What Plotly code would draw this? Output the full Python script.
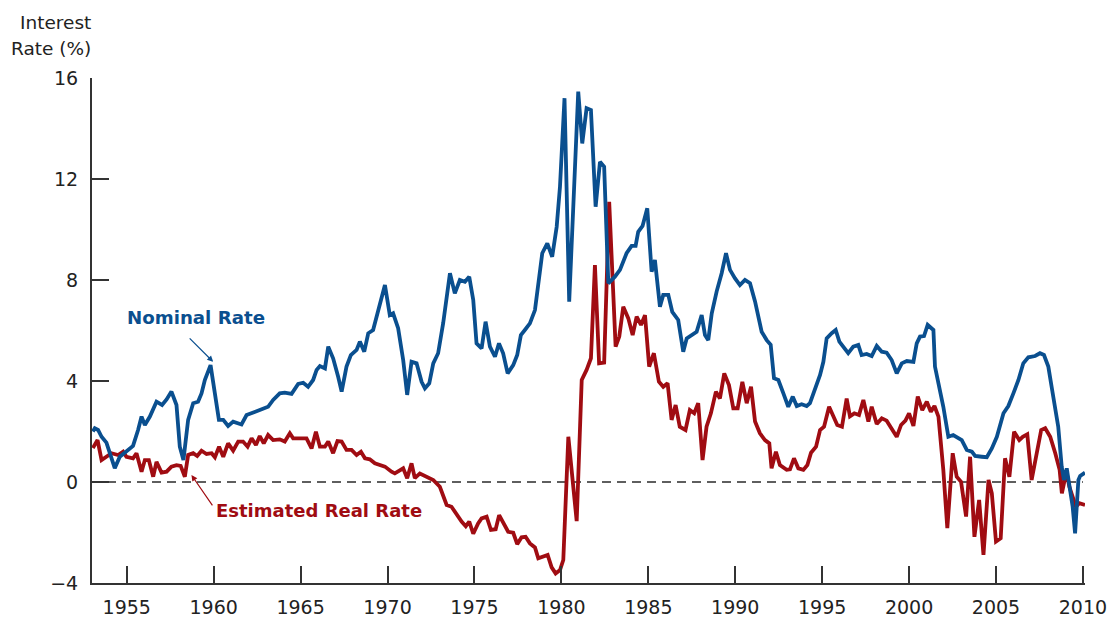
import plotly.graph_objects as go

# nominal rate (year, percent)
nominal_year = [1953.05, 1953.16, 1953.35, 1953.55, 1953.83, 1954.31, 1954.6, 1954.98, 1955.36, 1955.65,
                1955.85, 1956.04, 1956.33, 1956.71, 1957.03, 1957.29, 1957.57, 1957.86, 1958.05, 1958.26,
                1958.53, 1958.82, 1959.1, 1959.3, 1959.49, 1959.82, 1960.07, 1960.3, 1960.55, 1960.83,
                1961.12, 1961.6, 1961.89, 1962.18, 1962.65, 1963.13, 1963.42, 1963.8, 1964.09, 1964.48,
                1964.86, 1965.15, 1965.43, 1965.72, 1965.92, 1966.11, 1966.4, 1966.59, 1966.87, 1967.16,
                1967.36, 1967.64, 1967.89, 1968.22, 1968.41, 1968.66, 1968.89, 1969.17, 1969.37, 1969.56,
                1969.85, 1970.13, 1970.32, 1970.61, 1970.9, 1971.13, 1971.38, 1971.67, 1971.96, 1972.15,
                1972.4, 1972.63, 1972.91, 1973.2, 1973.59, 1973.87, 1974.16, 1974.45, 1974.7, 1974.93,
                1975.12, 1975.41, 1975.64, 1975.89, 1976.18, 1976.41, 1976.65, 1976.91, 1977.23, 1977.46,
                1977.67, 1977.9, 1978.19, 1978.48, 1978.67, 1978.9, 1979.19, 1979.47, 1979.73, 1979.92,
                1980.18, 1980.45, 1980.97, 1981.2, 1981.45, 1981.7, 1981.97, 1982.22, 1982.46, 1982.7,
                1983.08, 1983.37, 1983.75, 1984.04, 1984.27, 1984.42, 1984.67, 1984.94, 1985.19, 1985.38,
                1985.67, 1985.86, 1986.15, 1986.38, 1986.72, 1987.01, 1987.21, 1987.49, 1987.78, 1988.07,
                1988.26, 1988.45, 1988.65, 1988.93, 1989.22, 1989.47, 1989.7, 1989.98, 1990.27, 1990.56,
                1990.85, 1991.14, 1991.52, 1991.81, 1992.04, 1992.23, 1992.48, 1992.77, 1993.05, 1993.31,
                1993.54, 1993.82, 1994.11, 1994.3, 1994.59, 1994.88, 1995.07, 1995.26, 1995.55, 1995.78,
                1995.99, 1996.22, 1996.5, 1996.79, 1997.08, 1997.27, 1997.56, 1997.85, 1998.14, 1998.43,
                1998.71, 1999.0, 1999.29, 1999.58, 1999.87, 2000.25, 2000.44, 2000.63, 2000.86, 2001.07,
                2001.4, 2001.49, 2001.78, 2001.97, 2002.26, 2002.54, 2003.03, 2003.32, 2003.61, 2003.8,
                2004.18, 2004.47, 2004.76, 2005.05, 2005.43, 2005.71, 2006.0, 2006.29, 2006.57, 2006.86,
                2007.25, 2007.53, 2007.76, 2008.01, 2008.2, 2008.39, 2008.58, 2008.78, 2008.91, 2009.07,
                2009.22, 2009.41, 2009.55, 2009.74, 2009.84, 2010.12]
nominal_rate = [2.0, 2.13, 2.06, 1.79, 1.56, 0.55, 1.0, 1.2, 1.43, 2.06,
                2.59, 2.26, 2.59, 3.18, 3.05, 3.27, 3.58, 3.05, 1.4, 0.87,
                2.46, 3.12, 3.18, 3.51, 4.04, 4.63, 3.38, 2.46, 2.46, 2.22,
                2.39, 2.28, 2.65, 2.74, 2.85, 2.98, 3.25, 3.51, 3.54, 3.49,
                3.88, 3.93, 3.77, 4.04, 4.44, 4.59, 4.5, 5.36, 4.9, 4.17,
                3.58, 4.57, 5.03, 5.23, 5.56, 5.16, 5.89, 6.02, 6.55, 7.01,
                7.8, 6.61, 6.68, 6.09, 4.83, 3.45, 4.76, 4.7, 3.97, 3.71,
                3.91, 4.7, 5.1, 6.29, 8.27, 7.47, 8.0, 7.93, 8.13, 7.21,
                5.49, 5.29, 6.35, 5.36, 4.96, 5.49, 5.1, 4.3, 4.63, 5.03,
                5.82, 6.02, 6.28, 6.81, 7.73, 9.06, 9.45, 8.92, 10.11, 11.7,
                15.2, 7.14, 15.46, 13.41, 14.8, 14.73, 10.9, 12.68, 12.49, 7.87,
                8.13, 8.4, 9.06, 9.35, 9.35, 9.91, 10.14, 10.84, 8.33, 8.79,
                6.94, 7.41, 7.41, 6.74, 6.42, 5.16, 5.69, 5.82, 5.95, 6.61,
                5.82, 5.62, 6.68, 7.54, 8.27, 9.06, 8.4, 8.07, 7.8, 8.0,
                7.87, 7.15, 5.95, 5.62, 5.43, 4.11, 4.04, 3.51, 2.98, 3.38,
                3.01, 3.08, 3.01, 3.12, 3.64, 4.24, 4.76, 5.69, 5.89, 6.02,
                5.56, 5.36, 5.1, 5.36, 5.43, 5.03, 5.07, 4.99, 5.39, 5.16,
                5.12, 4.83, 4.3, 4.7, 4.79, 4.76, 5.49, 5.76, 5.78, 6.22,
                6.02, 4.57, 3.7, 2.98, 1.79, 1.86, 1.66, 1.27, 1.2, 1.03,
                1.0, 0.98, 1.33, 1.79, 2.72, 3.01, 3.51, 4.04, 4.7, 4.94,
                4.99, 5.1, 5.03, 4.57, 3.77, 2.98, 2.19, 0.61, 0.08, 0.54,
                -0.19, -0.98, -2.03, 0.08, 0.24, 0.37]

# estimated real rate
real_year = [1953.05, 1953.32, 1953.55, 1953.83, 1954.12, 1954.5, 1954.79, 1954.98, 1955.36, 1955.56,
             1955.85, 1956.04, 1956.27, 1956.52, 1956.71, 1957.0, 1957.29, 1957.57, 1957.86, 1958.1,
             1958.34, 1958.53, 1958.82, 1959.05, 1959.3, 1959.59, 1959.88, 1960.07, 1960.31, 1960.55,
             1960.83, 1961.12, 1961.41, 1961.69, 1961.95, 1962.18, 1962.43, 1962.65, 1962.88, 1963.13,
             1963.42, 1963.8, 1964.09, 1964.38, 1964.57, 1964.86, 1965.34, 1965.63, 1965.88, 1966.11,
             1966.4, 1966.59, 1966.87, 1967.12, 1967.36, 1967.64, 1967.93, 1968.22, 1968.47, 1968.7,
             1968.98, 1969.27, 1969.6, 1969.85, 1970.23, 1970.42, 1970.9, 1971.13, 1971.38, 1971.57,
             1971.86, 1972.25, 1972.63, 1973.01, 1973.4, 1973.68, 1973.97, 1974.26, 1974.5, 1974.7,
             1974.93, 1975.21, 1975.41, 1975.7, 1975.95, 1976.22, 1976.42, 1976.65, 1976.94, 1977.23,
             1977.46, 1977.71, 1977.94, 1978.19, 1978.48, 1978.67, 1978.96, 1979.21, 1979.44, 1979.67,
             1979.92, 1980.11, 1980.4, 1980.88, 1981.17, 1981.45, 1981.7, 1981.93, 1982.17, 1982.46,
             1982.75, 1983.12, 1983.33, 1983.56, 1983.85, 1984.1, 1984.33, 1984.58, 1984.81, 1985.05,
             1985.32, 1985.61, 1985.86, 1986.11, 1986.34, 1986.57, 1986.81, 1987.14, 1987.39, 1987.64,
             1987.87, 1988.12, 1988.35, 1988.6, 1988.89, 1989.12, 1989.37, 1989.64, 1989.89, 1990.14,
             1990.41, 1990.66, 1990.91, 1991.14, 1991.42, 1991.71, 1991.96, 1992.09, 1992.34, 1992.57,
             1992.96, 1993.15, 1993.38, 1993.63, 1993.92, 1994.15, 1994.36, 1994.65, 1994.88, 1995.11,
             1995.4, 1995.64, 1995.87, 1996.14, 1996.41, 1996.6, 1996.85, 1997.12, 1997.37, 1997.66,
             1997.85, 1998.14, 1998.43, 1998.71, 1999.0, 1999.29, 1999.54, 1999.79, 2000.0, 2000.25,
             2000.5, 2000.76, 2001.02, 2001.25, 2001.46, 2001.69, 2001.97, 2002.2, 2002.51, 2002.74,
             2002.99, 2003.28, 2003.51, 2003.76, 2004.03, 2004.28, 2004.57, 2004.76, 2005.0, 2005.27,
             2005.52, 2005.77, 2006.04, 2006.34, 2006.54, 2006.8, 2007.05, 2007.34, 2007.6, 2007.83,
             2008.12, 2008.41, 2008.66, 2008.79, 2009.05, 2009.22, 2009.41, 2009.6, 2009.79, 2010.12]
real_rate = [1.35, 1.66, 0.87, 1.0, 1.14, 1.07, 1.2, 1.0, 0.94, 1.14,
             0.41, 0.87, 0.87, 0.21, 0.8, 0.37, 0.41, 0.61, 0.67, 0.64,
             0.21, 1.07, 1.14, 1.03, 1.24, 1.11, 1.14, 0.98, 1.4, 1.0,
             1.53, 1.24, 1.6, 1.6, 1.4, 1.73, 1.47, 1.82, 1.53, 1.86,
             1.66, 1.69, 1.6, 1.93, 1.73, 1.73, 1.73, 1.33, 1.99, 1.4,
             1.4, 1.6, 1.14, 1.62, 1.6, 1.27, 1.27, 1.07, 1.2, 0.94,
             0.9, 0.74, 0.68, 0.61, 0.41, 0.34, 0.54, 0.15, 0.74, 0.15,
             0.34, 0.21, 0.08, -0.19, -0.91, -0.98, -1.31, -1.57, -1.75, -1.57,
             -2.05, -1.64, -1.44, -1.37, -1.9, -1.87, -1.31, -1.64, -1.97, -2.01,
             -2.46, -2.19, -2.17, -2.43, -2.59, -3.02, -2.93, -2.89, -3.38, -3.62,
             -3.49, -3.09, 1.79, -1.55, 4.04, 4.44, 4.9, 8.59, 4.7, 4.73,
             11.1, 5.36, 5.76, 6.94, 6.48, 5.82, 6.55, 6.22, 6.61, 4.57,
             5.1, 3.97, 3.77, 3.91, 2.46, 3.05, 2.19, 2.06, 2.85, 2.72,
             3.12, 0.87, 2.19, 2.72, 3.58, 3.31, 4.3, 3.84, 2.92, 2.92,
             3.97, 3.12, 3.77, 2.4, 1.93, 1.66, 1.53, 0.54, 1.2, 0.67,
             0.48, 0.5, 0.94, 0.54, 0.48, 0.67, 1.16, 1.4, 2.06, 2.19,
             2.98, 2.65, 2.26, 2.19, 3.3, 2.6, 2.72, 2.65, 3.25, 2.39,
             2.98, 2.3, 2.52, 2.43, 2.13, 1.79, 2.26, 2.43, 2.72, 2.22,
             3.38, 2.85, 3.18, 2.78, 3.01, 2.59, 0.48, -1.83, 1.14, 0.21,
             0.01, -1.37, 1.0, -2.17, -0.71, -2.89, 0.08, -0.45, -2.36, -2.23,
             0.94, 0.21, 1.99, 1.66, 1.79, 1.89, 0.08, 1.14, 2.06, 2.13,
             1.79, 1.14, 0.48, -0.45, 0.41, -0.19, -0.58, -0.98, -0.84, -0.91]

year_ticks = [1955, 1960, 1965, 1970, 1975, 1980, 1985, 1990, 1995, 2000, 2005, 2010]
rate_ticks = [-4, 0, 4, 8, 12, 16]

BLUE = "#0a4f8f"
RED = "#a00c12"
FONT = "DejaVu Sans"

fig = go.Figure()
fig.add_trace(go.Scatter(x=real_year, y=real_rate, mode="lines",
                         line=dict(color=RED, width=3.8), name="Estimated Real Rate"))
fig.add_trace(go.Scatter(x=nominal_year, y=nominal_rate, mode="lines",
                         line=dict(color=BLUE, width=3.8), name="Nominal Rate"))

# dashed zero line
fig.add_shape(type="line", xref="x", yref="y", x0=1953, x1=2010, y0=0, y1=0,
              line=dict(color="#2a2a2a", width=1.5, dash="9px,6px"), layer="below")

# labels and arrows
fig.add_annotation(x=1959.0, y=6.53, text="<b>Nominal Rate</b>", showarrow=False,
                   font=dict(family=FONT, size=18.2, color=BLUE))
fig.add_annotation(x=1966.05, y=-1.11, text="<b>Estimated Real Rate</b>", showarrow=False,
                   font=dict(family=FONT, size=18, color=RED))
fig.add_annotation(x=1959.97, y=4.76, text="", showarrow=True, ax=-25, ay=-25,
                   arrowhead=2, arrowsize=1, arrowwidth=1.2, arrowcolor=BLUE)
fig.add_annotation(x=1958.72, y=0.28, text="", showarrow=True, ax=22, ay=32,
                   arrowhead=2, arrowsize=1, arrowwidth=1.2, arrowcolor=RED)

# y axis title, two lines, right aligned over the axis
fig.add_annotation(xref="paper", yref="paper", x=0, y=1, xanchor="right", yanchor="middle",
                   xshift=1, yshift=56, text="Interest", showarrow=False,
                   font=dict(family=FONT, size=18.5, color="#222222"))
fig.add_annotation(xref="paper", yref="paper", x=0, y=1, xanchor="right", yanchor="middle",
                   xshift=1, yshift=30, text="Rate (%)", showarrow=False,
                   font=dict(family=FONT, size=18.5, color="#222222"))

# the page body adds 8px on the left and top, so the figure is that much smaller
fig.update_layout(
    width=1108, height=611,
    margin=dict(l=84, r=31, t=70, b=36),
    paper_bgcolor="white", plot_bgcolor="white",
    showlegend=False,
    font=dict(family=FONT, size=19, color="#222222"),
    xaxis=dict(range=[1953, 2010.12], tickvals=year_ticks, ticks="inside", ticklen=17,
               tickwidth=1.5, tickcolor="#333333", showline=True, linecolor="#333333",
               linewidth=2, showgrid=False, zeroline=False, ticklabelstandoff=6,
               automargin=False),
    yaxis=dict(range=[-4, 16], tickvals=rate_ticks, ticks="inside", ticklen=17,
               tickwidth=1.5, tickcolor="#333333", showline=True, linecolor="#333333",
               linewidth=2, showgrid=False, zeroline=False, ticklabelstandoff=8,
               automargin=False),
)

fig.write_html("out.html")
